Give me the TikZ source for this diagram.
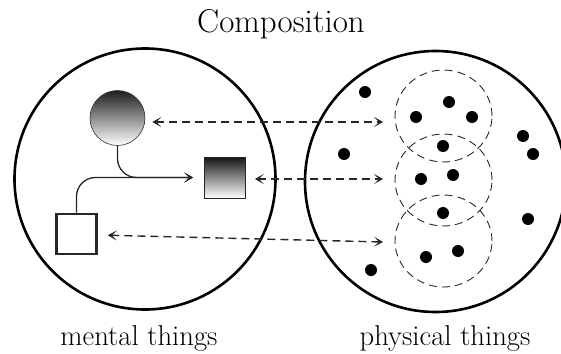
\documentclass[tikz,border=0pt]{standalone}
\usepackage{fontspec}
\usetikzlibrary{arrows.meta,calc,shapes.geometric}
\begin{document}
\begin{tikzpicture}[x=1pt,y=-1pt,
  big/.style={draw=black,line width=2.6pt},
  grp/.style={draw=black!85,line width=0.9pt,dash pattern=on 8pt off 5pt},
  dot/.style={fill=black,circle,inner sep=0pt,minimum size=12pt},
  link/.style={draw=black!85,line width=1.4pt,dash pattern=on 8pt off 5pt,
    {Stealth[length=9pt,width=10pt,inset=5pt]}-{Stealth[length=9pt,width=10pt,inset=5pt]}},
  flow/.style={draw=black!85,line width=1.3pt,rounded corners=19pt,
    -{Stealth[length=9pt,width=10pt,inset=5pt]}},
  lbl/.style={font=\fontsize{28.7}{32}\selectfont,anchor=base},
  ]
\useasboundingbox (0,0) rectangle (561,353);

% titles
\node[anchor=base,font=\fontsize{33}{38}\selectfont] (title) at (281,33) {Composition};
\node[lbl] (mental) at (139,345) {mental things};
\node[lbl] (physical) at (445,345) {physical things};

% the two domains
\node[big,circle,minimum size=261pt,inner sep=0pt] (left) at (145,179) {};
\node[big,circle,minimum size=261pt,inner sep=0pt] (right) at (435.5,181.5) {};

% mental things
\node[circle,draw=black!80,line width=0.6pt,minimum size=55pt,inner sep=0pt,
  top color=black!88,bottom color=white] (ball) at (117.5,118) {};
\node[rectangle,draw=black!85,line width=0.7pt,minimum size=41pt,inner sep=0pt,
  top color=black!92,bottom color=white] (gsq) at (225,177.5) {};
\node[rectangle,draw=black!85,line width=2.6pt,minimum size=40pt,inner sep=0pt,
  fill=white] (wsq) at (76.5,234) {};

% merging arrows into the shaded square
\draw[flow,shorten >=11pt] (ball.south) |- (gsq.west);
\draw[flow,shorten >=11pt] (wsq.north) |- (gsq.west);

% groups of physical things
\node[grp,ellipse,minimum width=97pt,minimum height=92pt,inner sep=0pt] (g1) at (443.5,116) {};
\node[grp,ellipse,minimum width=97pt,minimum height=92pt,inner sep=0pt] (g2) at (443.5,180) {};
\node[grp,ellipse,minimum width=97pt,minimum height=92pt,inner sep=0pt] (g3) at (443.5,241) {};

% physical particles
\foreach \n/\px/\py in {d1/365/92, d2/449/102, d3/416/117, d4/472/117,
    d5/443/146, d6/523/136, d7/533/154, d8/344/154, d9/421/179,
    d10/453/175, d11/443/213, d12/528/219, d13/426/257, d14/458/251,
    d15/371/270}
  \node[dot] (\n) at (\px,\py) {};

% correspondences
\coordinate (c1) at (383,122);
\coordinate (c2) at (383,179);
\coordinate (c3) at (383,242);
\draw[link,shorten <=7pt] (ball.east |- c1) -- (c1);
\draw[link,shorten <=9pt] (gsq.east |- c2) -- (c2);
\draw[link,shorten <=10pt] ($(wsq.east)+(0,1)$) -- (c3);
\end{tikzpicture}
\end{document}
